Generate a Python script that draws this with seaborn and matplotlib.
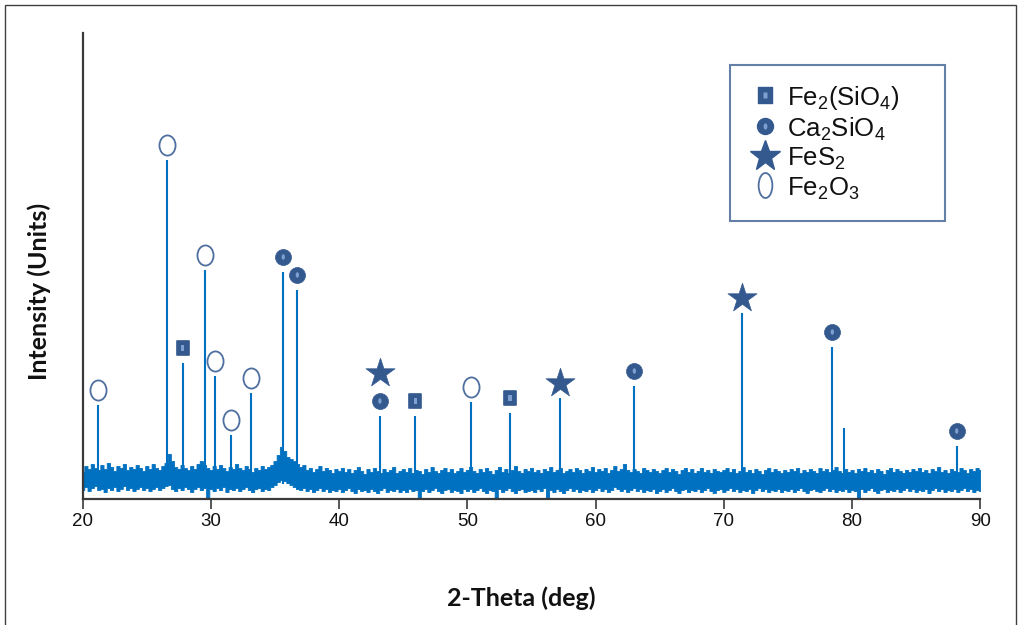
import numpy as np
import pandas as pd
import matplotlib
matplotlib.use("Agg")
import matplotlib.pyplot as plt
from matplotlib.path import Path
from matplotlib.lines import Line2D
from matplotlib.patches import Rectangle
from matplotlib.legend_handler import HandlerTuple
import seaborn as sns

# ---------------- data ----------------
two_theta_start = 20.0
two_theta_step = 0.25

# upper / lower envelope of the noisy background band (intensity units)
noise_upper = [
    27, 33, 30, 35, 31, 29, 34, 30, 36, 32, 28, 33, 31, 35, 29, 32, 30, 34, 31, 28,
    33, 30, 35, 31, 29, 33, 36, 45, 38, 32, 30, 34, 31, 29, 33, 30, 35, 38, 34, 31,
    29, 33, 30, 34, 31, 28, 32, 30, 35, 31, 29, 33, 30, 27, 31, 29, 33, 30, 32, 34,
    38, 44, 52, 48, 42, 40, 38, 35, 32, 34, 29, 31, 27, 30, 33, 28, 31, 29, 26, 30,
    28, 31, 27, 30, 26, 29, 32, 28, 25, 30, 27, 31, 28, 26, 30, 27, 29, 32, 26, 28,
    30, 27, 31, 26, 29, 28, 25, 30, 27, 32, 28, 26, 29, 31, 27, 30, 26, 28, 31, 27,
    29, 32, 28, 26, 30, 27, 31, 28, 25, 29, 32, 27, 30, 26, 29, 33, 28, 26, 30, 28,
    31, 27, 29, 26, 30, 28, 32, 27, 29, 31, 26, 28, 30, 27, 31, 29, 26, 30, 28, 32,
    27, 30, 28, 31, 26, 29, 33, 28, 30, 35, 29, 27, 30, 28, 26, 31, 29, 27, 30, 28,
    26, 29, 31, 27, 30, 28, 25, 29, 31, 27, 30, 26, 28, 31, 27, 29, 26, 30, 28, 27,
    29, 31, 27, 30, 26, 28, 32, 27, 29, 26, 30, 28, 25, 29, 31, 27, 30, 28, 26, 29,
    27, 30, 28, 31, 26, 29, 27, 30, 28, 26, 31, 28, 30, 27, 29, 32, 28, 26, 30, 27,
    29, 26, 30, 28, 31, 27, 29, 26, 30, 28, 25, 29, 31, 27, 30, 28, 26, 29, 27, 30,
    28, 31, 27, 29, 26, 30, 28, 32, 27, 29, 26, 30, 28, 27, 31, 29, 26, 30, 28, 31,
    29,
]
noise_lower = [
    9, 12, 8, 11, 13, 9, 10, 7, 11, 9, 12, 8, 10, 13, 9, 11, 8, 10, 12, 9,
    11, 8, 10, 12, 9, 11, 13, 14, 10, 8, 11, 9, 12, 10, 7, 10, 12, 9, 11, 0,
    10, 8, 11, 9, 12, 7, 10, 9, 11, 8, 10, 12, 9, 7, 10, 11, 8, 10, 9, 12,
    14, 17, 19, 18, 16, 14, 12, 10, 9, 11, 8, 10, 7, 9, 11, 8, 10, 7, 9, 8,
    10, 7, 9, 11, 8, 6, 10, 8, 9, 7, 10, 8, 6, 9, 11, 7, 9, 8, 10, 7,
    9, 7, 10, 8, 9, 0, 8, 10, 7, 9, 11, 8, 6, 9, 10, 7, 9, 8, 6, 10,
    8, 10, 7, 9, 11, 8, 6, 9, 8, 0, 10, 7, 9, 11, 8, 6, 9, 10, 7, 8,
    9, 7, 10, 8, 11, 0, 9, 7, 10, 8, 6, 9, 11, 8, 10, 7, 9, 8, 10, 7,
    9, 11, 8, 10, 7, 9, 12, 10, 8, 10, 7, 9, 11, 8, 10, 7, 9, 8, 10, 6,
    8, 10, 7, 9, 11, 8, 6, 9, 10, 7, 9, 8, 10, 7, 9, 11, 8, 6, 9, 10,
    7, 9, 11, 8, 10, 7, 9, 8, 10, 6, 9, 11, 8, 10, 7, 9, 8, 10, 7, 9,
    8, 10, 7, 9, 11, 8, 6, 9, 10, 8, 7, 9, 11, 8, 10, 7, 9, 8, 10, 7,
    9, 8, 0, 10, 7, 9, 11, 8, 6, 9, 10, 7, 9, 8, 10, 7, 9, 11, 8, 10,
    7, 9, 8, 10, 6, 9, 11, 8, 10, 7, 9, 8, 10, 7, 9, 11, 8, 10, 7, 9,
    8,
]

# sharp diffraction peaks
peak_2theta = [21.22, 26.60, 27.80, 29.54, 30.32, 31.56, 33.13, 35.64, 36.74,
               43.18, 45.94, 50.30, 53.32, 57.22, 63.02, 71.39, 78.46, 79.39, 88.16]
peak_intensity = [94, 339, 136, 229, 123, 64, 106, 227, 209,
                  83, 83, 97, 86, 101, 113, 186, 152, 71, 53]

# phase assignment of peaks
fe2sio4_peaks = [27.80, 45.94, 53.32]
ca2sio4_peaks = [35.64, 36.74, 43.18, 63.02, 78.46, 88.16]
fes2_peaks = [43.18, 57.22, 71.39]
fe2o3_peaks = [21.22, 26.60, 29.54, 30.32, 31.56, 33.13, 50.30]

phase_labels = [r"Fe$_2$(SiO$_4$)", r"Ca$_2$SiO$_4$", r"FeS$_2$", r"Fe$_2$O$_3$"]
x_ticks = [20, 30, 40, 50, 60, 70, 80, 90]
x_label = "2-Theta (deg)"
y_label = "Intensity (Units)"

# ---------------- style ----------------
sns.set_theme(style="white")
plt.rcParams["font.family"] = ["Liberation Sans", "DejaVu Sans"]
plt.rcParams["mathtext.fontset"] = "custom"
plt.rcParams["mathtext.rm"] = "Liberation Sans"
plt.rcParams["mathtext.it"] = "Liberation Sans:italic"
plt.rcParams["mathtext.default"] = "regular"

line_blue = "#0070C0"
mark_dark = "#34598F"
mark_light = "#7E9FD0"
ellipse_edge = "#4E6F9F"
spine_col = "#3A3A3A"

def ellipse_path(aspect):
    c = Path.unit_circle()
    v = c.vertices.copy()
    v[:, 0] *= aspect
    return Path(v, c.codes)

def rect_path(aspect):
    return Path([(-aspect, -1), (aspect, -1), (aspect, 1), (-aspect, 1), (-aspect, -1)],
                [Path.MOVETO, Path.LINETO, Path.LINETO, Path.LINETO, Path.CLOSEPOLY])

fig = plt.figure(figsize=(10.19, 6.25), dpi=100)
ax = fig.add_axes([82.7 / 1019, 1 - 499 / 625, (980.3 - 82.7) / 1019, (499 - 33) / 625])

# outer frame of the picture
fig.patches.append(Rectangle((5 / 1019, -0.05), (1016 - 5) / 1019, 1.05 - 5 / 625,
                             transform=fig.transFigure, fill=False,
                             edgecolor="#404040", linewidth=1.0))

# background band
x_noise = two_theta_start + two_theta_step * np.arange(len(noise_upper))
ax.fill_between(x_noise, noise_lower, noise_upper, step="mid",
                color=line_blue, linewidth=0.6, zorder=2)

# peaks
ax.vlines(peak_2theta, 15, peak_intensity, color=line_blue, linewidth=1.5, zorder=2)

# markers above peaks
peak_lookup = dict(zip(peak_2theta, peak_intensity))
base_off = 15
stack_off = 28
stack_count = {}

def marker_frame(peaks):
    ys = []
    for p in peaks:
        k = stack_count.get(p, 0)
        ys.append(peak_lookup[p] + base_off + k * stack_off)
        stack_count[p] = k + 1
    return pd.DataFrame({"two_theta": peaks, "marker_y": ys})

df_sq = marker_frame(fe2sio4_peaks)
df_ci = marker_frame(ca2sio4_peaks)
df_st = marker_frame(fes2_peaks)
df_el = marker_frame(fe2o3_peaks)

sq_path = rect_path(0.85)
el_path = ellipse_path(0.80)
hl_path = ellipse_path(0.6)

sns.scatterplot(data=df_sq, x="two_theta", y="marker_y", marker=sq_path, s=10.5 ** 2,
                color=mark_dark, edgecolor=mark_dark, linewidth=1.2, ax=ax,
                legend=False, zorder=4)
sns.scatterplot(data=df_sq, x="two_theta", y="marker_y", marker=rect_path(0.5), s=4.5 ** 2,
                color=mark_light, edgecolor="none", linewidth=0, ax=ax, legend=False, zorder=5)
sns.scatterplot(data=df_ci, x="two_theta", y="marker_y", marker="o", s=11.5 ** 2,
                color=mark_dark, edgecolor=mark_dark, linewidth=0.5, ax=ax,
                legend=False, zorder=4)
sns.scatterplot(data=df_ci, x="two_theta", y="marker_y", marker=hl_path, s=4 ** 2,
                color=mark_light, edgecolor="none", linewidth=0, ax=ax, legend=False, zorder=5)
sns.scatterplot(data=df_st, x="two_theta", y="marker_y", marker="*", s=22 ** 2,
                color=mark_dark, edgecolor=mark_dark, linewidth=0.5, ax=ax,
                legend=False, zorder=4)
sns.scatterplot(data=df_el, x="two_theta", y="marker_y", marker=el_path, s=14.5 ** 2,
                color="white", edgecolor=ellipse_edge, linewidth=1.3, ax=ax,
                legend=False, zorder=4)

# axes styling
ax.set_xlim(20, 90)
ax.set_ylim(0, 466)
ax.set_xticks(x_ticks)
ax.set_xticklabels([str(t) for t in x_ticks])
ax.set_yticks([])
for s in ["top", "right"]:
    ax.spines[s].set_visible(False)
for s in ["left", "bottom"]:
    ax.spines[s].set_color(spine_col)
    ax.spines[s].set_linewidth(1.6)
ax.tick_params(axis="x", direction="out", length=7, width=1.2, color=spine_col,
               labelsize=13.5, pad=3, labelcolor="#111111", bottom=True)

lab_font = dict(family=["Lato", "DejaVu Sans"], weight="bold", size=18)
ax.set_xlabel(x_label, fontdict=lab_font, color="#111111")
ax.xaxis.set_label_coords((521 - 82.7) / 897.6, (499 - 598) / 466)
ax.xaxis.label.set_va("center")
ax.set_ylabel(y_label, fontdict=lab_font, color="#111111")
ax.yaxis.set_label_coords((39 - 82.7) / 897.6, (499 - 291) / 466)
ax.yaxis.label.set_va("center")

# legend
h_sq = (Line2D([], [], linestyle="none", marker=sq_path, ms=11.5, mfc=mark_dark, mec=mark_dark, mew=1.0),
        Line2D([], [], linestyle="none", marker=rect_path(0.5), ms=5, mfc=mark_light, mec="none"))
h_ci = (Line2D([], [], linestyle="none", marker="o", ms=11.5, mfc=mark_dark, mec=mark_dark),
        Line2D([], [], linestyle="none", marker=hl_path, ms=4.5, mfc=mark_light, mec="none"))
h_st = Line2D([], [], linestyle="none", marker="*", ms=23, mfc=mark_dark, mec=mark_dark)
h_el = Line2D([], [], linestyle="none", marker=ellipse_path(0.55), ms=18, mfc="white",
              mec=ellipse_edge, mew=1.3)
leg_x0 = (730 - 82.7) / 897.6
leg_w = (945 - 730) / 897.6
leg_top = (499 - 65) / 466
leg = ax.legend([h_sq, h_ci, h_st, h_el], phase_labels,
                handler_map={tuple: HandlerTuple(ndivide=1, pad=0)},
                loc="upper left", bbox_to_anchor=(leg_x0, leg_top - 0.2, leg_w, 0.2),
                mode="expand", borderaxespad=0, fontsize=18.5, frameon=True, fancybox=False,
                borderpad=0.75, handlelength=1.2, handletextpad=0.25, labelspacing=0.12,
                handleheight=1.0)
leg.get_frame().set_edgecolor("#3E6090")
leg.get_frame().set_linewidth(1.5)
for t in leg.get_texts():
    t.set_color("#111111")

fig.savefig("out.png", dpi=100, facecolor="white")
